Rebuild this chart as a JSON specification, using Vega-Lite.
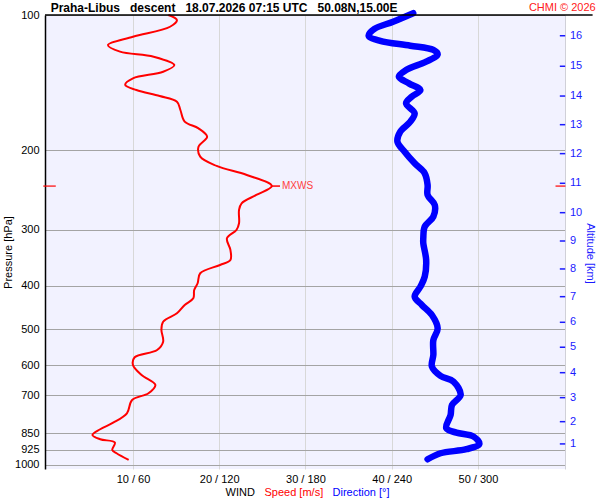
{
  "$schema": "https://vega.github.io/schema/vega-lite/v6.json",
  "width": 520,
  "height": 454,
  "autosize": "none",
  "padding": {"left": 45, "top": 15, "right": 35, "bottom": 31},
  "background": "#ffffff",
  "config": {
    "font": "Liberation Sans",
    "view": {"fill": "#f2f2ff", "stroke": null}
  },
  "datasets": {
    "speed": [
      {"p": 100, "speed": 14.1}, {"p": 102.6, "speed": 15.1}, {"p": 106.2, "speed": 14.3},
      {"p": 111.8, "speed": 10.0}, {"p": 116.6, "speed": 7.1}, {"p": 120.6, "speed": 8.5},
      {"p": 123.8, "speed": 12.4}, {"p": 129.2, "speed": 14.8}, {"p": 133.7, "speed": 13.5},
      {"p": 138.3, "speed": 10.0}, {"p": 143.0, "speed": 9.1}, {"p": 146.8, "speed": 10.4},
      {"p": 151.4, "speed": 13.1}, {"p": 155.8, "speed": 15.1}, {"p": 162.6, "speed": 15.5},
      {"p": 172.6, "speed": 16.0}, {"p": 178.6, "speed": 17.6}, {"p": 186.4, "speed": 18.6},
      {"p": 196.2, "speed": 17.6}, {"p": 206.5, "speed": 17.8}, {"p": 216.5, "speed": 19.7},
      {"p": 226.8, "speed": 23.2}, {"p": 239.9, "speed": 26.1}, {"p": 251.2, "speed": 24.3},
      {"p": 262.1, "speed": 22.6}, {"p": 271.2, "speed": 22.3}, {"p": 290.3, "speed": 22.3},
      {"p": 300.5, "speed": 22.0}, {"p": 313.5, "speed": 20.9}, {"p": 332.8, "speed": 21.3},
      {"p": 350.3, "speed": 21.3}, {"p": 359.4, "speed": 20.1}, {"p": 375.0, "speed": 17.8},
      {"p": 394.6, "speed": 17.5}, {"p": 408.4, "speed": 17.1}, {"p": 426.2, "speed": 17.0},
      {"p": 441.0, "speed": 16.0}, {"p": 460.2, "speed": 15.1}, {"p": 480.5, "speed": 13.5},
      {"p": 501.2, "speed": 13.3}, {"p": 532.1, "speed": 13.5}, {"p": 555.2, "speed": 12.8},
      {"p": 576.4, "speed": 10.2}, {"p": 599.5, "speed": 10.0}, {"p": 631.0, "speed": 11.0},
      {"p": 664.1, "speed": 12.6}, {"p": 693.0, "speed": 11.8}, {"p": 717.1, "speed": 9.9},
      {"p": 767.7, "speed": 9.3}, {"p": 805.4, "speed": 7.7}, {"p": 833.1, "speed": 6.2},
      {"p": 857.7, "speed": 5.3}, {"p": 876.6, "speed": 6.2}, {"p": 891.9, "speed": 7.9},
      {"p": 926.0, "speed": 7.6}, {"p": 941.9, "speed": 8.1}, {"p": 974.7, "speed": 9.5}
    ],
    "dir": [
      {"p": 99.1, "dir": 255}, {"p": 103.5, "dir": 241}, {"p": 107.4, "dir": 228},
      {"p": 111.2, "dir": 224}, {"p": 114.2, "dir": 232}, {"p": 117.0, "dir": 253},
      {"p": 119.6, "dir": 269}, {"p": 122.3, "dir": 272}, {"p": 127.0, "dir": 264},
      {"p": 132.5, "dir": 250}, {"p": 137.1, "dir": 245}, {"p": 141.9, "dir": 252},
      {"p": 146.8, "dir": 260}, {"p": 151.9, "dir": 254}, {"p": 157.1, "dir": 250},
      {"p": 165.4, "dir": 256}, {"p": 172.6, "dir": 253}, {"p": 181.7, "dir": 246},
      {"p": 191.2, "dir": 244}, {"p": 201.3, "dir": 249}, {"p": 213.6, "dir": 256},
      {"p": 224.8, "dir": 263}, {"p": 238.7, "dir": 265}, {"p": 251.2, "dir": 265},
      {"p": 264.4, "dir": 270}, {"p": 280.6, "dir": 269}, {"p": 295.4, "dir": 263},
      {"p": 313.5, "dir": 262}, {"p": 321.6, "dir": 262}, {"p": 350.3, "dir": 264},
      {"p": 381.5, "dir": 263}, {"p": 401.6, "dir": 260}, {"p": 422.7, "dir": 256},
      {"p": 441.0, "dir": 261}, {"p": 464.2, "dir": 268}, {"p": 496.9, "dir": 272},
      {"p": 527.8, "dir": 269}, {"p": 569.5, "dir": 269}, {"p": 604.6, "dir": 268},
      {"p": 634.2, "dir": 274}, {"p": 653.0, "dir": 283}, {"p": 699.0, "dir": 288},
      {"p": 735.6, "dir": 282}, {"p": 774.3, "dir": 281}, {"p": 828.6, "dir": 278},
      {"p": 847.6, "dir": 285}, {"p": 865.1, "dir": 297}, {"p": 897.9, "dir": 301},
      {"p": 922.6, "dir": 292}, {"p": 941.9, "dir": 274}, {"p": 971.2, "dir": 265}
    ],
    "alt": [
      {"km": 16, "p": 111.2}, {"km": 15, "p": 130.0}, {"km": 14, "p": 151.4},
      {"km": 13, "p": 175.3}, {"km": 12, "p": 203.3}, {"km": 11, "p": 236.6},
      {"km": 10, "p": 275.0}, {"km": 9, "p": 317.9}, {"km": 8, "p": 366.8},
      {"km": 7, "p": 422.7}, {"km": 6, "p": 481.9}, {"km": 5, "p": 547.5},
      {"km": 4, "p": 623.7}, {"km": 3, "p": 708.7}, {"km": 2, "p": 801.4},
      {"km": 1, "p": 898.0}
    ],
    "mxws": [
      {"label": "MXWS", "p": 240, "speed": 26.1}
    ],
    "header": [
      {"label": "Praha-Libus\u00a0\u00a0\u00a0descent\u00a0\u00a0\u00a018.07.2026 07:15 UTC\u00a0\u00a0\u00a050.08N,15.00E", "p": 100}
    ]
  },
  "data": {"values": [{}]},
  "resolve": {"scale": {"x": "independent", "y": "independent"}},
  "layer": [
    {
      "data": {"name": "speed"},
      "mark": {"type": "line", "color": "#ff0000", "strokeWidth": 2, "interpolate": "catmull-rom"},
      "encoding": {
        "x": {
          "field": "speed", "type": "quantitative",
          "scale": {"domain": [-0.2, 60.1], "nice": false, "zero": false},
          "axis": {
            "orient": "bottom", "values": [10, 20, 30, 40, 50],
            "labelExpr": "datum.value + ' / ' + datum.value * 6",
            "grid": true, "gridColor": "#d8d8d8", "gridWidth": 1,
            "domain": false, "ticks": false, "tickSize": 0, "labelPadding": 4,
            "labelFontSize": 11, "labelColor": "#000000",
            "title": "Speed [m/s]", "titleColor": "#ff0000", "titleFontSize": 11,
            "titleFontWeight": "normal", "titleAlign": "left", "titleBaseline": "alphabetic",
            "titleX": 219, "titleY": 26
          }
        },
        "y": {
          "field": "p", "type": "quantitative",
          "scale": {"type": "log", "domain": [100, 1021], "nice": false, "reverse": true},
          "axis": {
            "orient": "left", "values": [100, 200, 300, 400, 500, 600, 700, 850, 925, 1000],
            "format": "d", "grid": true, "gridColor": "#a4a4a4", "gridWidth": 1.2,
            "domain": true, "domainColor": "#000000", "domainWidth": 1.5,
            "ticks": false, "tickSize": 0, "labelPadding": 6,
            "labelFontSize": 11, "labelColor": "#000000",
            "title": "Pressure [hPa]", "titleColor": "#000000", "titleFontSize": 11,
            "titleFontWeight": "normal", "titleAngle": -90, "titleAlign": "center",
            "titleBaseline": "middle", "titleX": -37, "titleY": 237
          }
        },
        "order": {"field": "p", "type": "quantitative"}
      }
    },
    {
      "data": {"name": "dir"},
      "mark": {"type": "line", "color": "#0000ff", "strokeWidth": 6.5, "strokeCap": "round", "strokeJoin": "round", "interpolate": "catmull-rom"},
      "encoding": {
        "x": {
          "field": "dir", "type": "quantitative",
          "scale": {"domain": [-1.2, 360.6], "nice": false, "zero": false},
          "axis": {
            "orient": "bottom", "grid": false, "domain": false, "ticks": false, "labels": false,
            "title": "Direction [°]", "titleColor": "#0000ff", "titleFontSize": 11,
            "titleFontWeight": "normal", "titleAlign": "left", "titleBaseline": "alphabetic",
            "titleX": 287, "titleY": 26
          }
        },
        "y": {
          "field": "p", "type": "quantitative",
          "scale": {"type": "log", "domain": [100, 1021], "nice": false, "reverse": true},
          "axis": null
        },
        "order": {"field": "p", "type": "quantitative"}
      }
    },
    {
      "data": {"name": "alt"},
      "mark": {"type": "rule", "color": "#1a1aff", "strokeWidth": 1.5},
      "encoding": {
        "x": {"datum": 59.5, "type": "quantitative", "scale": {"domain": [-0.2, 60.1], "nice": false, "zero": false}, "axis": null},
        "x2": {"datum": 60.12},
        "y": {"field": "p", "type": "quantitative", "scale": {"type": "log", "domain": [100, 1021], "nice": false, "reverse": true}, "axis": null}
      }
    },
    {
      "data": {"name": "alt"},
      "mark": {"type": "text", "color": "#1a1aff", "fontSize": 11, "align": "left", "baseline": "middle", "dx": 5},
      "encoding": {
        "x": {
          "datum": 60.1, "type": "quantitative",
          "scale": {"domain": [-0.2, 60.1], "nice": false, "zero": false},
          "axis": {
            "orient": "bottom", "grid": false, "domain": false, "ticks": false, "labels": false,
            "title": "WIND", "titleColor": "#000000", "titleFontSize": 11,
            "titleFontWeight": "normal", "titleAlign": "left", "titleBaseline": "alphabetic",
            "titleX": 180, "titleY": 26
          }
        },
        "y": {
          "field": "p", "type": "quantitative",
          "scale": {"type": "log", "domain": [100, 1021], "nice": false, "reverse": true},
          "axis": {
            "orient": "right", "grid": false, "domain": true, "domainColor": "#d0d0d8", "domainWidth": 1,
            "ticks": false, "labels": false,
            "title": "Altitude [km]", "titleColor": "#1a1aff", "titleFontSize": 11,
            "titleFontWeight": "normal", "titleAngle": 90, "titleAlign": "center",
            "titleBaseline": "middle", "titleX": 24, "titleY": 238
          }
        },
        "text": {"field": "km", "type": "quantitative"}
      }
    },
    {
      "data": {"name": "mxws"},
      "mark": {"type": "rule", "color": "#ff0000", "strokeWidth": 1.2},
      "encoding": {
        "x": {"datum": -0.4, "type": "quantitative", "scale": {"domain": [-0.2, 60.1], "nice": false, "zero": false}, "axis": null},
        "x2": {"datum": 1.05},
        "y": {"field": "p", "type": "quantitative", "scale": {"type": "log", "domain": [100, 1021], "nice": false, "reverse": true}, "axis": null}
      }
    },
    {
      "data": {"name": "mxws"},
      "mark": {"type": "rule", "color": "#ff0000", "strokeWidth": 1.2},
      "encoding": {
        "x": {"datum": 59.0, "type": "quantitative", "scale": {"domain": [-0.2, 60.1], "nice": false, "zero": false}, "axis": null},
        "x2": {"datum": 60.15},
        "y": {"field": "p", "type": "quantitative", "scale": {"type": "log", "domain": [100, 1021], "nice": false, "reverse": true}, "axis": null}
      }
    },
    {
      "data": {"name": "mxws"},
      "mark": {"type": "rule", "color": "#ff0000", "strokeWidth": 1.5},
      "encoding": {
        "x": {"field": "speed", "type": "quantitative", "scale": {"domain": [-0.2, 60.1], "nice": false, "zero": false}, "axis": null},
        "x2": {"datum": 27.05},
        "y": {"field": "p", "type": "quantitative", "scale": {"type": "log", "domain": [100, 1021], "nice": false, "reverse": true}, "axis": null}
      }
    },
    {
      "data": {"name": "mxws"},
      "mark": {"type": "text", "color": "#ff4040", "fontSize": 10, "align": "left", "baseline": "middle", "dx": 2},
      "encoding": {
        "x": {"datum": 27.05, "type": "quantitative", "scale": {"domain": [-0.2, 60.1], "nice": false, "zero": false}, "axis": null},
        "y": {"field": "p", "type": "quantitative", "scale": {"type": "log", "domain": [100, 1021], "nice": false, "reverse": true}, "axis": null},
        "text": {"field": "label", "type": "nominal"}
      }
    },
    {
      "mark": {"type": "rule", "color": "#000000", "strokeWidth": 1.5},
      "encoding": {
        "x": {"datum": -0.2, "type": "quantitative", "scale": {"domain": [-0.2, 60.1], "nice": false, "zero": false}, "axis": null},
        "x2": {"datum": 63.3},
        "y": {"datum": 100, "type": "quantitative", "scale": {"type": "log", "domain": [100, 1021], "nice": false, "reverse": true}, "axis": null}
      }
    },
    {
      "data": {"name": "header"},
      "mark": {"type": "text", "color": "#000000", "fontSize": 12, "fontWeight": "bold", "align": "left", "baseline": "alphabetic", "dy": -3},
      "encoding": {
        "x": {"datum": 0.46, "type": "quantitative", "scale": {"domain": [-0.2, 60.1], "nice": false, "zero": false}, "axis": null},
        "y": {"field": "p", "type": "quantitative", "scale": {"type": "log", "domain": [100, 1021], "nice": false, "reverse": true}, "axis": null},
        "text": {"field": "label", "type": "nominal"}
      }
    },
    {
      "mark": {"type": "text", "color": "#ff2020", "fontSize": 11, "align": "right", "baseline": "alphabetic", "dy": -4},
      "encoding": {
        "x": {"datum": 63.66, "type": "quantitative", "scale": {"domain": [-0.2, 60.1], "nice": false, "zero": false}, "axis": null},
        "y": {"datum": 100, "type": "quantitative", "scale": {"type": "log", "domain": [100, 1021], "nice": false, "reverse": true}, "axis": null},
        "text": {"value": "CHMI © 2026"}
      }
    }
  ]
}
